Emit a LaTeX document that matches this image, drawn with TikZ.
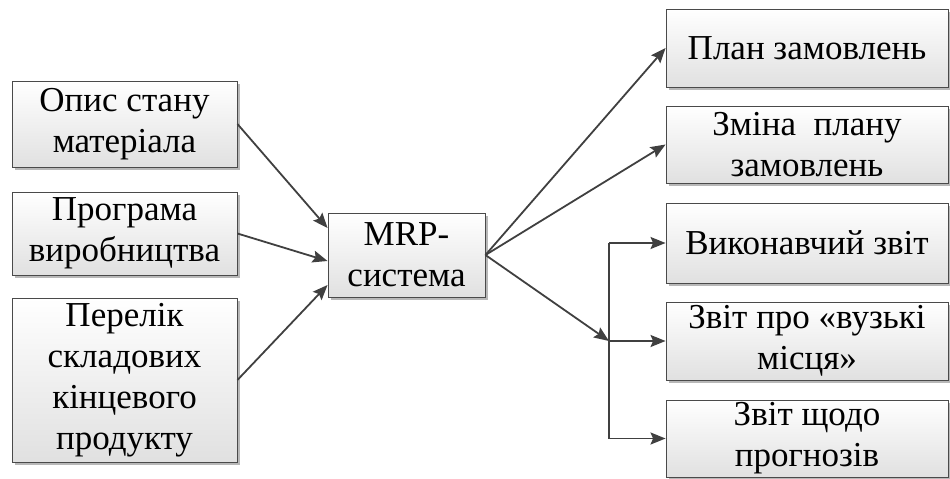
\documentclass[tikz,border=0pt]{standalone}
\usepackage{fontspec}
\setmainfont{Liberation Serif}
\usetikzlibrary{arrows.meta,shadows}
\definecolor{edgegray}{HTML}{4A4A4A}
\definecolor{linegray}{HTML}{404040}
\tikzset{
  box/.style={draw=edgegray, line width=0.9pt, top color=white, bottom color=black!12,
    drop shadow={shadow xshift=2.5pt, shadow yshift=-2.5pt, fill=black!28, opacity=1},
    align=center, inner sep=0pt,
    font=\fontsize{35}{41}\selectfont},
  conn/.style={draw=linegray, line width=1.8pt,
    -{Stealth[length=15pt, width=12pt, inset=2.5pt]}},
  bus/.style={draw=linegray, line width=1.8pt}
}
\begin{document}
\begin{tikzpicture}[x=1pt, y=-1pt]
\useasboundingbox (0,0) rectangle (950,479);

% inputs
\node[box, minimum width=225pt, minimum height=86pt] (l1) at (124.5,124) {Опис стану\\матеріала};
\node[box, minimum width=225pt, minimum height=83pt] (l2) at (124.5,233.5) {Програма\\виробництва};
\node[box, minimum width=225pt, minimum height=164pt] (l3) at (124.5,380) {Перелік\\складових\\кінцевого\\продукту};

% system
\node[box, minimum width=157pt, minimum height=84pt] (mrp) at (406.5,255) {MRP-\\система};

% outputs
\node[box, minimum width=282pt, minimum height=78pt] (r1) at (807,48) {План замовлень};
\node[box, minimum width=282pt, minimum height=77pt] (r2) at (807,144.5) {Зміна\ \ плану\\замовлень};
\node[box, minimum width=282pt, minimum height=80pt] (r3) at (807,243) {Виконавчий звіт};
\node[box, minimum width=282pt, minimum height=78pt] (r4) at (807,341) {Звіт про «вузькі\\місця»};
\node[box, minimum width=282pt, minimum height=77pt] (r5) at (807,438.5) {Звіт щодо\\прогнозів};

% distribution bus for the reports
\coordinate (bx) at (609,0);
\coordinate (btop) at (bx |- r3.west);
\coordinate (bmid) at (bx |- r4.west);
\coordinate (bbot) at (bx |- r5.west);

% arrows into the system
\draw[conn] (l1.east) -- ([yshift=27pt]mrp.west);
\draw[conn] (l2.east) -- ([yshift=-6pt]mrp.west);
\draw[conn] (l3.east) -- ([yshift=-30pt]mrp.west);

% arrows out of the system
\draw[conn] (mrp.east) -- (r1.west);
\draw[conn] (mrp.east) -- (r2.west);
\draw[conn] (mrp.east) -- (bmid);

\draw[bus] (btop) -- (bbot);
\draw[conn] (btop) -- (r3.west);
\draw[conn] (bmid) -- (r4.west);
\draw[conn] (bbot) -- (r5.west);
\end{tikzpicture}
\end{document}
